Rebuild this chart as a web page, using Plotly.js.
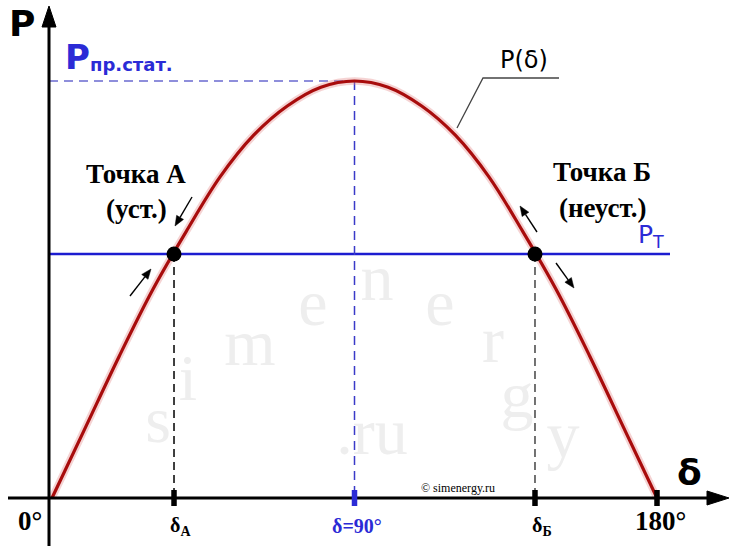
<!DOCTYPE html>
<html><head><meta charset="utf-8">
<script src="https://cdn.plot.ly/plotly-3.0.1.min.js"></script>
<style>html,body{margin:0;padding:0;background:#fff}</style>
</head><body><div id="chart" style="width:736px;height:548px"></div>
<script>
// ---- data ----
const delta = [0,10,20,30,40,50,60,70,80,90,100,110,120,130,140,150,160,170,180];
const power = [0,0.17,0.34,0.50,0.64,0.77,0.87,0.94,0.985,1.0,0.985,0.94,0.87,0.77,0.64,0.50,0.34,0.17,0];
const pointDelta = [36.3, 143.7];
const pointPower = [0.585, 0.585];
const pointNames = ["Точка А", "Точка Б"];
const powerTurbine = 0.585;
const powerMax = 1.0;
const tickDelta = [36.3, 90, 143.7, 180];
const tickLabels = ["δ<sub>А</sub>", "δ=90°", "δ<sub>Б</sub>", "180°"];
const tickColors = ["#000", "#2b2bd6", "#000", "#000"];
const watermarkLetters = ["s","i","m","e","n","e","r","g","y",".ru"];

// ---- pixel <-> data helpers for decorations ----
const X0 = 52, XS = 605/180, Y0 = 498, YS = 417;
const X = px => (px - X0) / XS;
const Y = py => (Y0 - py) / YS;

const blue = "#2b2bd6";
const traces = [];
// watermark (decoration)
const wmPix = [[158,425],[188,383],[250,348],[313,308],[377,283],[440,308],[493,345],[517,400],[563,440],[372,437]];
traces.push({x: wmPix.map(p=>X(p[0])), y: wmPix.map(p=>Y(p[1])), mode:"text", text: watermarkLetters,
  textfont:{family:"Liberation Serif", size:66, color:"#eeeeee"}, hoverinfo:"skip", showlegend:false});
// curve glow + core
traces.push({x: delta, y: power, mode:"lines", line:{shape:"spline", color:"rgba(230,140,140,0.38)", width:7.5}, hoverinfo:"skip", showlegend:false});
traces.push({x: delta, y: power, mode:"lines", line:{shape:"spline", color:"#a80c0c", width:3.2}, hoverinfo:"skip", showlegend:false});
// equilibrium points
traces.push({x: pointDelta, y: pointPower, mode:"markers", text: pointNames, marker:{color:"#000", size:15}, hoverinfo:"text", showlegend:false});

const shapes = [];
// P_T line
shapes.push({type:"line", xref:"x", yref:"y", x0:X(49), x1:X(670), y0:powerTurbine, y1:powerTurbine, line:{color:"#1c1cd0", width:2.5}, layer:"below"});
// Pmax dashed
shapes.push({type:"line", xref:"x", yref:"y", x0:X(49), x1:90, y0:powerMax, y1:powerMax, line:{color:"#6a6ad0", width:1.5, dash:"9px,6px"}, layer:"below"});
shapes.push({type:"line", xref:"x", yref:"y", x0:90, x1:90, y0:powerMax, y1:0, line:{color:"#3a3ac8", width:1.5, dash:"9px,6px"}, layer:"below"});
// dashed verticals at points
pointDelta.forEach((d,i)=>shapes.push({type:"line", xref:"x", yref:"y", x0:d, x1:d, y0:pointPower[i], y1:0, line:{color: i? "#444":"#000", width:1.5, dash:"8px,5px"}, layer:"below"}));
// axes
shapes.push({type:"line", xref:"x", yref:"y", x0:X(8), x1:X(712), y0:0, y1:0, line:{color:"#000", width:3}});
shapes.push({type:"line", xref:"x", yref:"y", x0:X(49), x1:X(49), y0:Y(546), y1:Y(22), line:{color:"#000", width:3}});
shapes.push({type:"path", xref:"x", yref:"y", path:`M ${X(729)} 0 L ${X(707)} ${Y(491)} L ${X(707)} ${Y(505)} Z`, fillcolor:"#000", line:{color:"#000", width:1}});
shapes.push({type:"path", xref:"x", yref:"y", path:`M ${X(49)} ${Y(6)} L ${X(42)} ${Y(27)} L ${X(56)} ${Y(27)} Z`, fillcolor:"#000", line:{color:"#000", width:1}});
// tick marks
tickDelta.forEach((d,i)=>shapes.push({type:"line", xref:"x", yref:"y", x0:d, x1:d, y0:Y(490), y1:Y(506), line:{color:tickColors[i], width:5.5}}));
// P(δ) leader
shapes.push({type:"path", xref:"x", yref:"y", path:`M ${X(457)} ${Y(128)} L ${X(483)} ${Y(78)} L ${X(559)} ${Y(78)}`, line:{color:"#444", width:1.3}});
// direction arrows near the points (tail -> head, pixels)
const arrow = (tx,ty,hx,hy)=>{
  const dx=hx-tx, dy=hy-ty, L=Math.hypot(dx,dy), ux=dx/L, uy=dy/L, hl=10, hw=4;
  const bx=hx-ux*hl, by=hy-uy*hl;
  shapes.push({type:"line", xref:"x", yref:"y", x0:X(tx), y0:Y(ty), x1:X(bx), y1:Y(by), line:{color:"#000", width:1.4}});
  shapes.push({type:"path", xref:"x", yref:"y", path:`M ${X(hx)} ${Y(hy)} L ${X(bx-uy*hw)} ${Y(by+ux*hw)} L ${X(bx+uy*hw)} ${Y(by-ux*hw)} Z`, fillcolor:"#000", line:{color:"#000", width:0.5}});
};
arrow(192,197,175,226);
arrow(130,296,151,269);
arrow(537,232,520,206);
arrow(556,263,574,288);

const ann = [];
const A = (px,py,text,font,extra) => ann.push(Object.assign({xref:"x", yref:"y", x:X(px), y:Y(py), text, showarrow:false, font}, extra||{}));
const sans = "DejaVu Sans", serif = "Liberation Serif";
A(22,23,"<b>P</b>",{family:sans,size:36,color:"#000"});
A(63,57,"<b>P</b>",{family:sans,size:34,color:blue},{xanchor:"left"});
A(88,64,"<b>пр.стат.</b>",{family:sans,size:18,color:blue},{xanchor:"left"});
A(524,60,"P(δ)",{family:sans,size:24,color:"#000"});
A(136,174,"<b>Точка А</b>",{family:serif,size:27,color:"#000"});
A(136,209,"<b>(уст.)</b>",{family:serif,size:27,color:"#000"});
A(602,172,"<b>Точка Б</b>",{family:serif,size:27,color:"#000"});
A(603,208,"<b>(неуст.)</b>",{family:serif,size:27,color:"#000"});
A(651,236,"P<sub>T</sub>",{family:sans,size:25,color:blue});
A(689,472,"<b>δ</b>",{family:sans,size:36,color:"#000"});
A(30,521,"<b>0°</b>",{family:serif,size:27,color:"#000"});
A(458,488,"© simenergy.ru",{family:serif,size:12,color:"#000"});
tickDelta.forEach((d,i)=>ann.push({xref:"x", yref:"y", x:d+(i===3?1:i===1?0.6:2), y:Y(i===3?521:526), text:"<b>"+tickLabels[i]+"</b>", showarrow:false,
  font:{family:serif, size: i===3?27:20, color: tickColors[i]}}));

const layout = {
  width:736, height:548, margin:{l:0,r:0,t:0,b:0}, paper_bgcolor:"#fff", plot_bgcolor:"#fff",
  xaxis:{range:[X(0), X(736)], visible:false, fixedrange:true},
  yaxis:{range:[Y(548), Y(0)], visible:false, fixedrange:true},
  shapes, annotations: ann, showlegend:false
};
Plotly.newPlot("chart", traces, layout, {staticPlot:true});
</script></body></html>
